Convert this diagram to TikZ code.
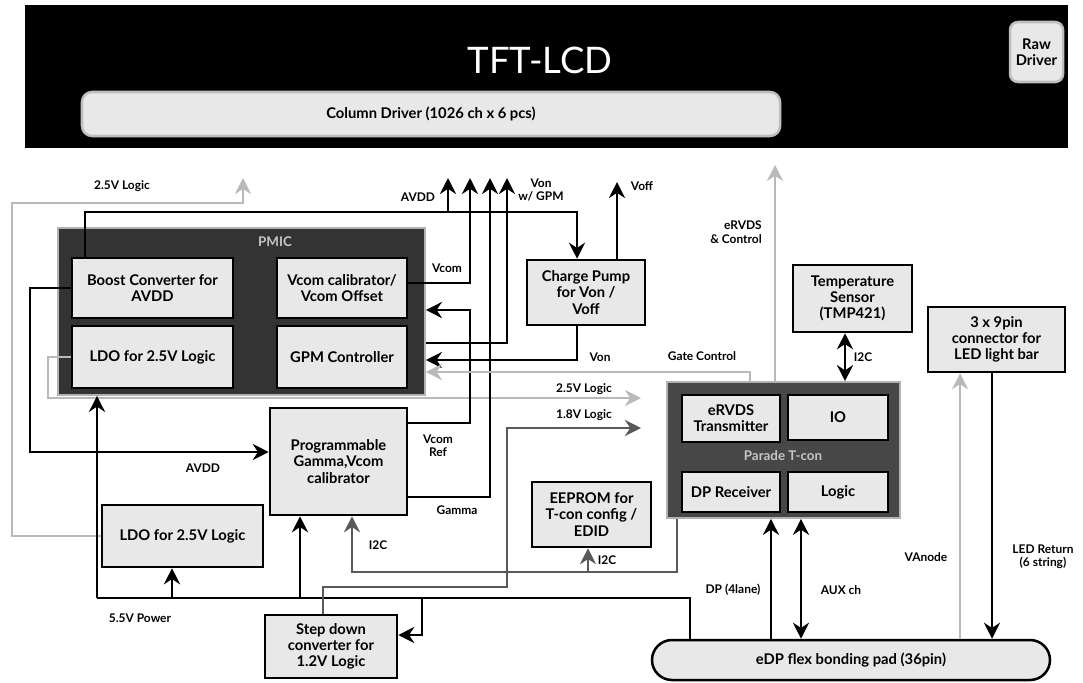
\documentclass[tikz,border=0pt]{standalone}
\usepackage{fontspec}
\setmainfont{Lato}
\usetikzlibrary{arrows.meta,calc}

\tikzset{
  blk/.style={draw=black,line width=1.8pt,fill=gray!18,align=center,inner sep=1pt,
    font=\bfseries\fontsize{10.5}{11.5}\selectfont},
  wire/.style={line width=2pt},
  gwire/.style={line width=2pt,gray!55},
  dwire/.style={line width=2pt,black!65},
  lbl/.style={font=\bfseries\fontsize{8.5}{9.5}\selectfont,align=center,inner sep=1pt},
}

\begin{document}
\begin{tikzpicture}[x=0.25mm,y=-0.25mm,>={Stealth[length=4mm,width=4mm]}]
	\useasboundingbox (0,0) rectangle (1083,682);
	% panel
	\node[fill=black,inner sep=0,minimum width=260.75mm,minimum height=35.75mm] (lcd) at (546.5,76.5) {};
	\node[text=white,font=\fontsize{26}{28}\selectfont] (lcdtitle) at (540,60) {TFT-LCD};
	\node[blk,draw=gray!50,rounded corners=2.5mm,minimum width=174.5mm,minimum height=11mm] (coldrv) at (431,114) {Column Driver (1026 ch x 6 pcs)};
	\node[blk,draw=gray!50,rounded corners=2mm,minimum width=13.25mm,minimum height=15mm] (rawdrv) at (1036.5,52) {Raw\\Driver};
	% PMIC
	\node[draw=gray!60,line width=1.2pt,fill=black!80,minimum width=91.75mm,minimum height=41.75mm] (pmic) at (241.5,311.5) {};
	\node[text=gray!45,font=\bfseries\fontsize{9.5}{10}\selectfont] (pmictitle) at (275,242) {PMIC};
	\node[blk,minimum width=40.25mm,minimum height=15mm] (boost) at (152.5,288) {Boost Converter for\\AVDD};
	\node[blk,minimum width=40.25mm,minimum height=15.5mm] (ldoa) at (152.5,357) {LDO for 2.5V Logic};
	\node[blk,minimum width=32.5mm,minimum height=15mm] (vcal) at (342,288) {Vcom calibrator/\\Vcom Offset};
	\node[blk,minimum width=32.5mm,minimum height=15.5mm] (gpm) at (342,357) {GPM Controller};
	% other blocks
	\node[blk,minimum width=29.5mm,minimum height=16.25mm] (chgpump) at (586,292.5) {Charge Pump\\for Von /\\Voff};
	\node[blk,minimum width=29.75mm,minimum height=16.75mm] (temp) at (852.5,298.5) {Temperature\\Sensor\\(TMP421)};
	\node[blk,minimum width=34.25mm,minimum height=16.25mm] (ledconn) at (996.5,339.5) {3 x 9pin\\connector for\\LED light bar};
	\node[blk,minimum width=34.25mm,minimum height=26.75mm] (gamma) at (338.5,461.5) {Programmable\\Gamma,Vcom\\calibrator};
	\node[blk,minimum width=40.25mm,minimum height=15.5mm] (ldob) at (182.5,536) {LDO for 2.5V Logic};
	\node[blk,minimum width=29.75mm,minimum height=16.25mm] (eeprom) at (591.5,514.5) {EEPROM for\\T-con config /\\EDID};
	\node[blk,minimum width=33mm,minimum height=15.75mm] (stepdn) at (331,646.5) {Step down\\converter for\\1.2V Logic};
	\node[blk,rounded corners=5mm,minimum width=99.5mm,minimum height=10mm] (edp) at (851,660) {eDP flex bonding pad (36pin)};
	% T-con
	\node[draw=gray!60,line width=1.2pt,fill=black!72,minimum width=58.25mm,minimum height=34mm] (tcon) at (783.5,450) {};
	\node[text=gray!45,font=\bfseries\fontsize{9.5}{10}\selectfont] (tcontitle) at (783,456) {Parade T-con};
	\node[blk,minimum width=24.5mm,minimum height=11.75mm] (ervds) at (731,418.5) {eRVDS\\Transmitter};
	\node[blk,minimum width=25mm,minimum height=11.25mm] (io) at (838,417.5) {IO};
	\node[blk,minimum width=24.5mm,minimum height=10mm] (dprx) at (731,492) {DP Receiver};
	\node[blk,minimum width=25mm,minimum height=10mm] (logic) at (838,492) {Logic};
	% free ends
	\coordinate (t25) at (243,178);
	\coordinate (tavdd) at (448,178);
	\coordinate (tvcom) at (470,178);
	\coordinate (tgam) at (490,178);
	\coordinate (tvon) at (507,178);
	\coordinate (tvoff) at (617,182);
	\coordinate (tervds) at (775,165);
	\coordinate (t25b) at (641,398);
	\coordinate (t18) at (641,428);
	% power and logic supplies
	\draw[gwire,->] (ldob.west) -| (12,203) -| (t25);
	\draw[gwire,->] (ldoa.west) -| (48,398) -- (t25b);
	\draw[wire,->] (boost.north -| 85,0) |- (577,212) -- (chgpump.north -| 577,0);
	\draw[wire,->] (tavdd |- 0,212) -- (tavdd);
	\draw[wire,->] (boost.west) -| (30,452) -- (gamma.west |- 0,452);
	\draw[wire] (edp.north -| 690,0) |- (97,598);
	\draw[wire,->] (97,598) -- (pmic.south -| 97,0);
	\draw[wire,->] (172,598) -- (ldob.south -| 172,0);
	\draw[wire,->] (300,598) -- (gamma.south -| 300,0);
	\draw[wire,->] (422,598) |- (stepdn.east |- 0,635);
	\draw[dwire,->] (stepdn.north -| 323,0) |- (507,587) |- (t18);
	% PMIC outputs
	\draw[wire,->] (vcal.east |- 0,283) -| (tvcom);
	\draw[wire,->] (gamma.east |- 0,497) -| (tgam);
	\draw[wire,->] (gamma.east |- 0,423) -| (470,310) -- (pmic.east |- 0,310);
	\draw[wire,->] (pmic.east |- 0,343) -| (tvon);
	\draw[wire,->] (chgpump.north -| tvoff) -- (tvoff);
	\draw[wire,->] (chgpump.south -| 577,0) |- (pmic.east |- 0,360);
	% T-con links
	\draw[gwire,->] (tcon.north -| 750,0) |- (pmic.east |- 0,372);
	\draw[gwire,line width=1pt,->] (tcon.north -| tervds) -- (tervds);
	\draw[wire,<->] (temp.south -| 845,0) -- (tcon.north -| 845,0);
	\draw[dwire,->] (tcon.south -| 677,0) |- (352,572) -- (gamma.south -| 352,0);
	\draw[dwire,->] (588,572) -- (eeprom.south -| 588,0);
	\draw[wire,->] (edp.north -| 771,0) -- (tcon.south -| 771,0);
	\draw[wire,<->] (edp.north -| 801,0) -- (tcon.south -| 801,0);
	\draw[gwire,line width=1.1pt,->] (edp.north -| 960,0) -- (ledconn.south -| 960,0);
	\draw[wire,->] (ledconn.south -| 992,0) -- (edp.north -| 992,0);
	% labels
	\node[lbl] (l25) at (122,186) {2.5V Logic};
	\node[lbl] (lavdd) at (418,197) {AVDD};
	\node[lbl] (lvon) at (541,190) {Von\\w/ GPM};
	\node[lbl] (lvoff) at (642,186) {Voff};
	\node[lbl] (lvcom) at (447,268) {Vcom};
	\node[lbl] (lvonb) at (600,357) {Von};
	\node[lbl] (lgate) at (702,356) {Gate Control};
	\node[lbl,align=right] (lervds) at (736,232) {eRVDS\\\& Control};
	\node[lbl] (li2ct) at (863,357) {I2C};
	\node[lbl] (l25b) at (584,389) {2.5V Logic};
	\node[lbl] (l18) at (584,415) {1.8V Logic};
	\node[lbl] (lvref) at (438,446) {Vcom\\Ref};
	\node[lbl] (lgam) at (457,510) {Gamma};
	\node[lbl] (lavddb) at (203,468) {AVDD};
	\node[lbl] (li2cg) at (378,545) {I2C};
	\node[lbl] (li2ce) at (607,560) {I2C};
	\node[lbl] (lpwr) at (140,618) {5.5V Power};
	\node[lbl] (ldp) at (733,590) {DP (4lane)};
	\node[lbl] (laux) at (841,590) {AUX ch};
	\node[lbl] (lvan) at (926,557) {VAnode};
	\node[lbl] (lled) at (1043,557) {LED Return\\(6 string)};
\end{tikzpicture}
\end{document}
